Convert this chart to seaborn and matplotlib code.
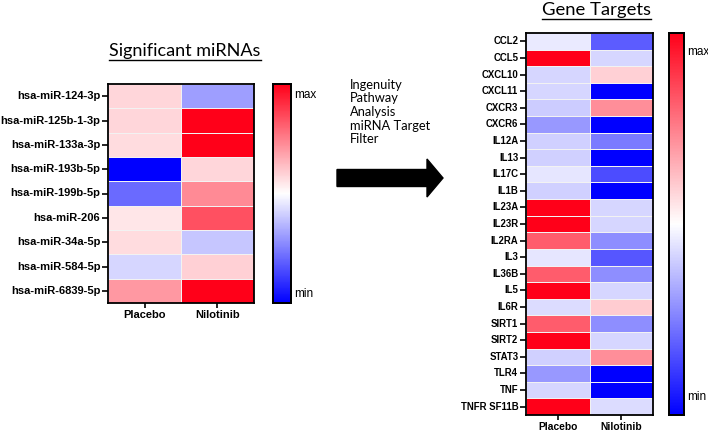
import numpy as np
import pandas as pd
import matplotlib
matplotlib.use("Agg")
import matplotlib.pyplot as plt
import seaborn as sns
from matplotlib.colors import LinearSegmentedColormap
from matplotlib.patches import FancyArrow

# values are relative levels on a min (0) .. max (1) scale
groups = ["Placebo", "Nilotinib"]

mirnas = ["hsa-miR-124-3p", "hsa-miR-125b-1-3p", "hsa-miR-133a-3p", "hsa-miR-193b-5p",
          "hsa-miR-199b-5p", "hsa-miR-206", "hsa-miR-34a-5p", "hsa-miR-584-5p", "hsa-miR-6839-5p"]
mirna_placebo = [0.58, 0.58, 0.57, 0.00, 0.21, 0.55, 0.57, 0.42, 0.70]
mirna_nilotinib = [0.31, 1.00, 1.00, 0.58, 0.73, 0.84, 0.39, 0.59, 1.00]

genes = ["CCL2", "CCL5", "CXCL10", "CXCL11", "CXCR3", "CXCR6", "IL12A", "IL13", "IL17C",
         "IL1B", "IL23A", "IL23R", "IL2RA", "IL3", "IL36B", "IL5", "IL6R", "SIRT1", "SIRT2",
         "STAT3", "TLR4", "TNF", "TNFR SF11B"]
gene_placebo = [0.46, 1.00, 0.42, 0.42, 0.40, 0.30, 0.41, 0.41, 0.45, 0.41, 1.00, 1.00,
                0.82, 0.45, 0.82, 1.00, 0.43, 0.82, 1.00, 0.41, 0.30, 0.42, 1.00]
gene_nilotinib = [0.18, 0.42, 0.59, 0.00, 0.72, 0.00, 0.24, 0.00, 0.15, 0.00, 0.42, 0.42,
                  0.28, 0.17, 0.28, 0.42, 0.60, 0.28, 0.42, 0.72, 0.00, 0.00, 0.43]

W, H = 708, 434
cmap = LinearSegmentedColormap.from_list("bwr_gp", ["#0000ff", "#ffffff", "#ff0019"])

plt.rcParams["font.family"] = ["Liberation Sans", "DejaVu Sans"]


def px_rect(x0, y0, x1, y1):
    return [x0 / W, 1 - y1 / H, (x1 - x0) / W, (y1 - y0) / H]


def draw_heatmap(fig, rect, cbar_rect, df, yfs, xfs, cfs):
    ax = fig.add_axes(rect)
    cax = fig.add_axes(cbar_rect)
    sns.heatmap(df, ax=ax, cbar_ax=cax, cmap=cmap, vmin=0, vmax=1,
                linewidths=0.4, linecolor="#f2f2f2", yticklabels=True, xticklabels=True)
    for s in ax.spines.values():
        s.set_visible(True)
        s.set_linewidth(1.3)
        s.set_color("black")
    ax.tick_params(axis="y", length=4, width=1.2, color="black", pad=1.5)
    ax.tick_params(axis="x", length=3.5, width=1.2, color="black", pad=1.5)
    ax.set_yticklabels(df.index, rotation=0, fontsize=yfs, fontweight="bold")
    ax.set_xticklabels(df.columns, rotation=0, fontsize=xfs, fontweight="bold")
    ax.set_xlabel("")
    ax.set_ylabel("")
    cax.set_yticks([0.955, 0.05])
    cax.set_yticklabels(["max", "min"], fontsize=cfs)
    cax.tick_params(length=0, pad=2)
    for s in cax.spines.values():
        s.set_visible(True)
        s.set_linewidth(1.3)
        s.set_color("black")
    cax.set_frame_on(True)
    return ax


fig = plt.figure(figsize=(W / 100, H / 100), dpi=100)

mirna_df = pd.DataFrame({groups[0]: mirna_placebo, groups[1]: mirna_nilotinib}, index=mirnas)
gene_df = pd.DataFrame({groups[0]: gene_placebo, groups[1]: gene_nilotinib}, index=genes)

draw_heatmap(fig, px_rect(108, 84, 254, 303), px_rect(273, 84, 291, 303), mirna_df, 8, 8, 8.5)
draw_heatmap(fig, px_rect(526, 33, 653, 415), px_rect(669, 33, 684, 415), gene_df, 6.9, 7.4, 8.5)

# overlay in pixel coordinates for titles, annotation text and arrow
ov = fig.add_axes([0, 0, 1, 1], zorder=-1)
ov.set_xlim(0, W)
ov.set_ylim(H, 0)
ov.axis("off")

t1 = ov.text(185, 51, "Significant miRNAs", ha="center", va="center",
             fontsize=13, family=["Lato", "DejaVu Sans"])
t2 = ov.text(596, 10, "Gene Targets", ha="center", va="center",
             fontsize=13.3, family=["Lato", "DejaVu Sans"])

ov.text(350, 112, "Ingenuity\nPathway\nAnalysis\nmiRNA Target\nFilter", ha="left", va="center",
        fontsize=9.3, linespacing=1.15, family=["Lato", "DejaVu Sans"])

ov.add_patch(FancyArrow(337, 178, 106, 0, width=17, head_width=38, head_length=16,
                        length_includes_head=True, color="black"))

# underline the two titles
fig.canvas.draw()
renderer = fig.canvas.get_renderer()
for t in (t1, t2):
    bb = t.get_window_extent(renderer)
    y = H - bb.y0 + 1
    ov.plot([bb.x0, bb.x1], [y, y], color="black", lw=1.0)

fig.savefig("out.png", dpi=100)
